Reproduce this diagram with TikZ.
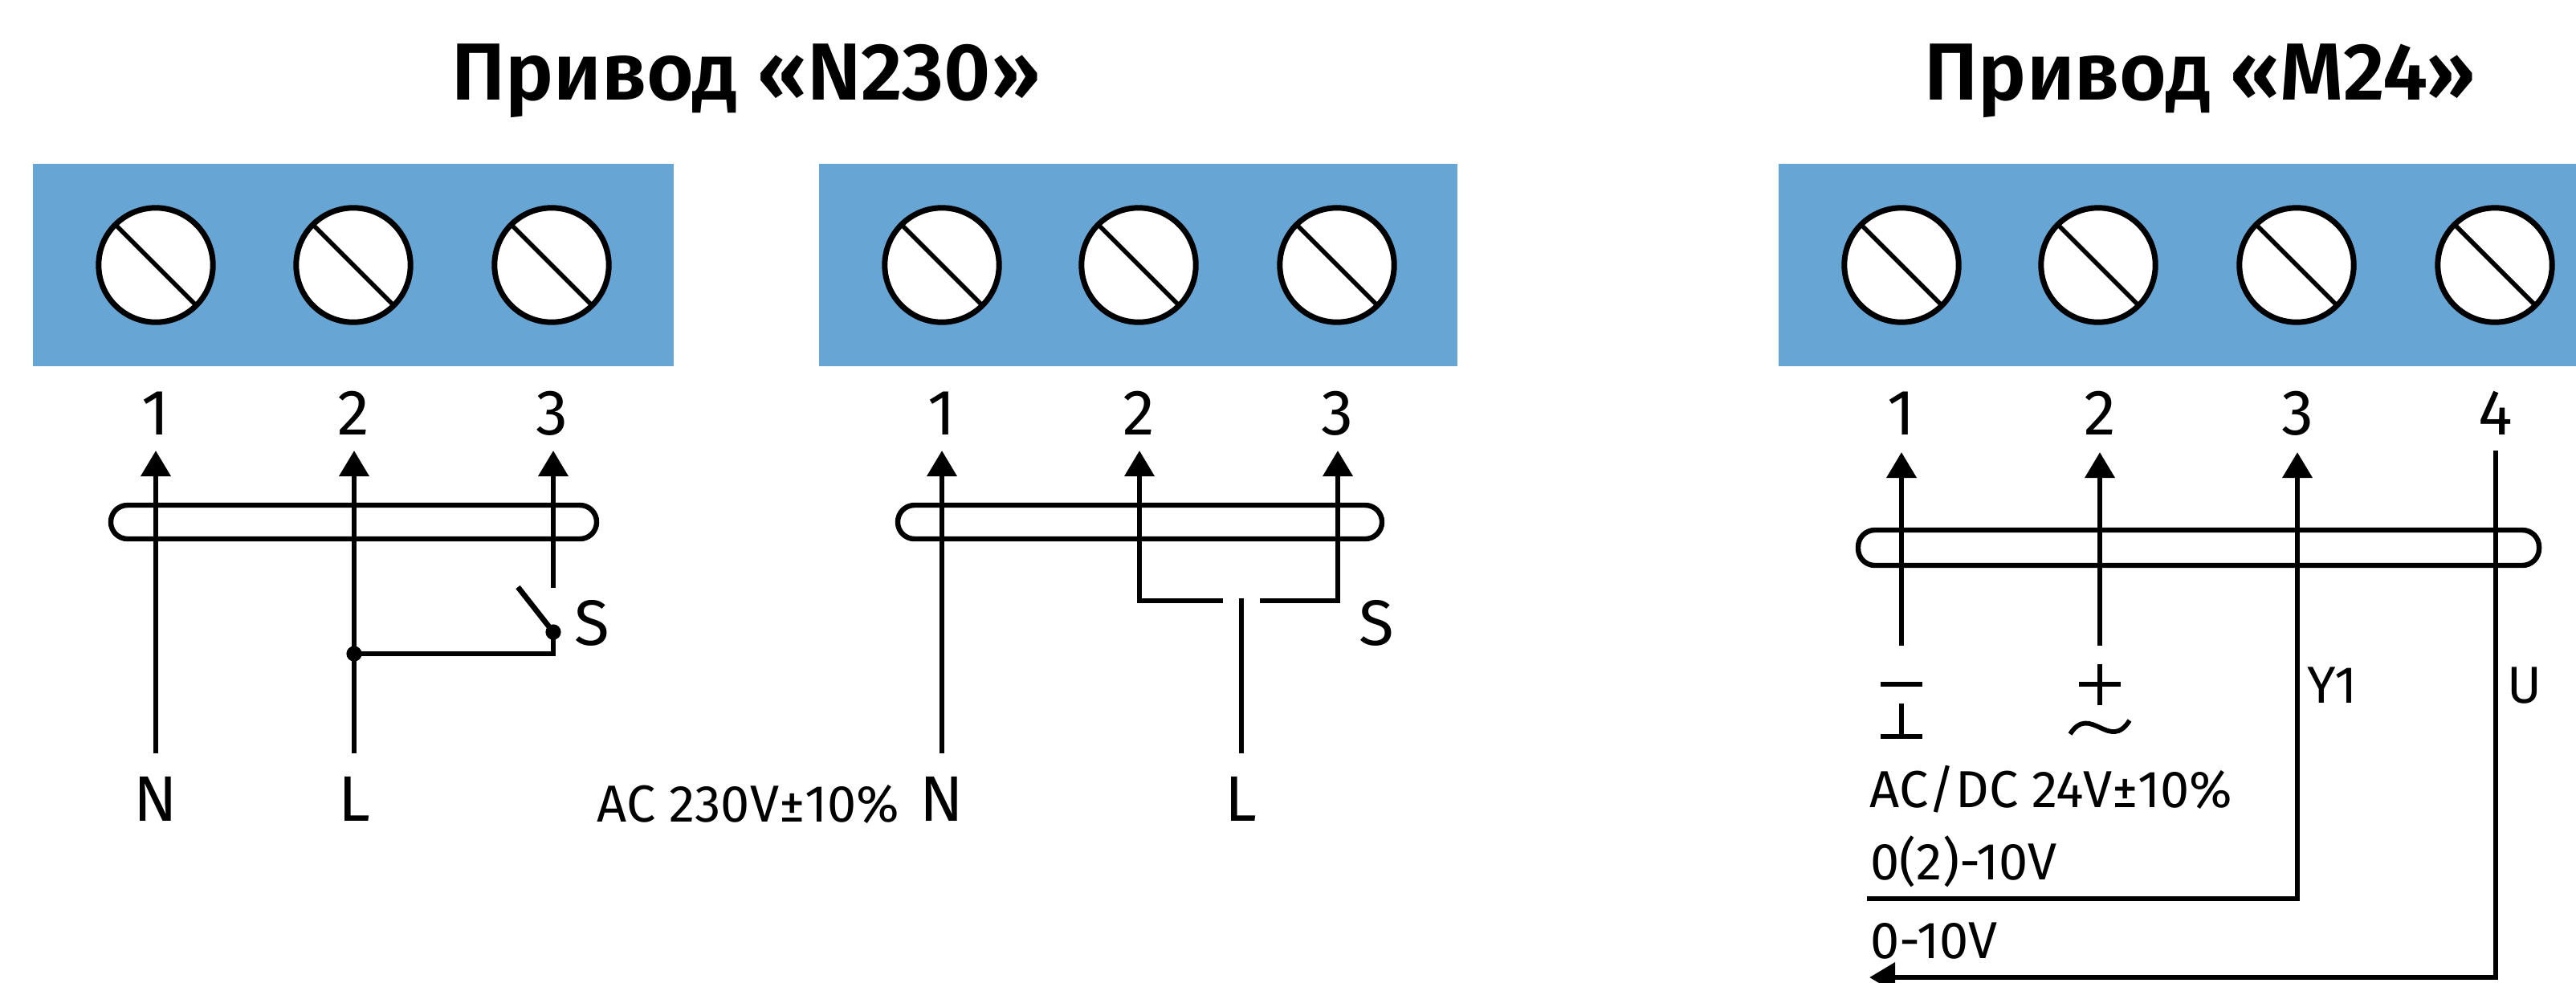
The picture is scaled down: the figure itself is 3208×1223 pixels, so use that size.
\documentclass[tikz,border=0pt]{standalone}
\usepackage{fontspec}
\setmainfont{Fira Sans}
\newfontfamily\titlefont{Fira Sans SemiBold}
\usetikzlibrary{calc}
\usetikzlibrary{arrows.meta}
\definecolor{panelblue}{HTML}{67A5D4}
\tikzset{
  panel/.style={fill=panelblue,draw=none},
  screw/.style={circle,draw=black,fill=white,line width=1.75pt,minimum size=35.6pt,inner sep=0pt,outer sep=0pt},
  slot/.style={line width=1.4pt},
  wire/.style={line width=1.7pt},
  feed/.style={wire,-{Triangle[length=8pt,width=9pt]}},
  sleeve/.style={line width=1.6pt,rounded corners=5.2pt},
  joint/.style={circle,fill=black,minimum size=4.8pt,inner sep=0pt},
  symb/.style={line width=1.45pt},
  big/.style={anchor=base,inner sep=0pt,font=\fontsize{20pt}{22pt}\selectfont},
  small/.style={anchor=base west,inner sep=0pt,font=\fontsize{16.2pt}{18pt}\selectfont},
  heading/.style={anchor=base,inner sep=0pt,font=\titlefont\fontsize{25.2pt}{28pt}\selectfont}
}
\begin{document}
\begin{tikzpicture}[x=.25pt,y=-.25pt]
\useasboundingbox (0,0) rectangle (3208,1223);
\node[heading] (titleN) at (929,124) {Привод «N230»};
\node[heading] (titleM) at (2740,124) {Привод «M24»};
% terminal blocks
\fill[panel] (41,204) rectangle (839,456);
\fill[panel] (1020,204) rectangle (1815,456);
\fill[panel] (2215,204) rectangle (3208,456);
\foreach \n/\x in {a1/194,a2/440,a3/687,b1/1173,b2/1418,b3/1665,c1/2368,c2/2613,c3/2860,c4/3107}{
  \node[screw] (screw\n) at (\x,330) {};
  \draw[slot] (screw\n.135)--(screw\n.-45);
}
\foreach \n/\x/\t in {a1/194/1,a2/440/2,a3/687/3,b1/1173/1,b2/1418/2,b3/1665/3,c1/2368/1,c2/2615/2,c3/2861/3,c4/3108/4}{
  \node[big] (num\n) at (\x,541) {\t};
}
% first N230 scheme
\draw[sleeve] (138,629) rectangle (743,671);
\coordinate (Na) at (194,938);
\coordinate (La) at (441,938);
\coordinate (tipa1) at (194,561);
\coordinate (tipa2) at (441,561);
\coordinate (tipa3) at (689,561);
\coordinate (cuta) at (689,732);
\coordinate (blade) at (645,731);
\node[joint] (pivot) at (689,787) {};
\node[joint] (tap) at (441,814) {};
\draw[feed] (Na)--(tipa1);
\draw[feed] (La)--(tipa2);
\draw[feed] (cuta)--(tipa3);
\draw[wire] (blade)--(pivot.center);
\draw[wire] (tap.center)-|(pivot.center);
\node[big] (labNa) at (194,1022) {N};
\node[big] (labLa) at (441,1022) {L};
\node[big] (labSa) at (737,803) {S};
\node[small] (supplyN) at (743,1023) {AC 230V±10\%};
% second N230 scheme
\draw[sleeve] (1118,629) rectangle (1721,671);
\coordinate (Nb) at (1173,938);
\coordinate (Lb) at (1546,938);
\coordinate (Lbtop) at (1546,745);
\coordinate (tipb1) at (1173,561);
\coordinate (tipb2) at (1419,561);
\coordinate (tipb3) at (1666,561);
\coordinate (gapl) at (1523,748);
\coordinate (gapr) at (1569,748);
\draw[feed] (Nb)--(tipb1);
\draw[wire] (Lb)--(Lbtop);
\draw[feed] (gapl)-|(tipb2);
\draw[feed] (gapr)-|(tipb3);
\node[big] (labNb) at (1173,1022) {N};
\node[big] (labLb) at (1545,1022) {L};
\node[big] (labSb) at (1714,803) {S};
% M24 scheme
\draw[sleeve] (2314,660) rectangle (3162,704);
\coordinate (minus) at (2368,804);
\coordinate (plus) at (2615,804);
\coordinate (tipc1) at (2368,563);
\coordinate (tipc2) at (2615,563);
\coordinate (tipc3) at (2861,563);
\coordinate (topc4) at (3108,561);
\coordinate (endY) at (2325,1119);
\coordinate (endU) at (2328,1217);
\draw[feed] (minus)--(tipc1);
\draw[feed] (plus)--(tipc2);
\draw[feed] (endY)-|(tipc3);
\draw[feed] (topc4)|-(endU);
\draw[symb] (2342,852)--(2394,852);
\draw[symb] (2342,917)--(2394,917) (2368,917)--(2368,876);
\draw[symb] (2589,852)--(2641,852) (2615,827)--(2615,878);
\draw[symb] (2578,914) .. controls (2603,875) and (2627,937) .. (2652,897);
\node[small] (labY) at (2873,875) {Y1};
\node[small] (labU) at (3122,875) {U};
\node[small] (supplyM) at (2328,1005) {AC/DC 24V±10\%};
\node[small] (rangeY) at (2329,1095) {0(2)-10V};
\node[small] (rangeU) at (2329,1193) {0-10V};
\end{tikzpicture}
\end{document}
